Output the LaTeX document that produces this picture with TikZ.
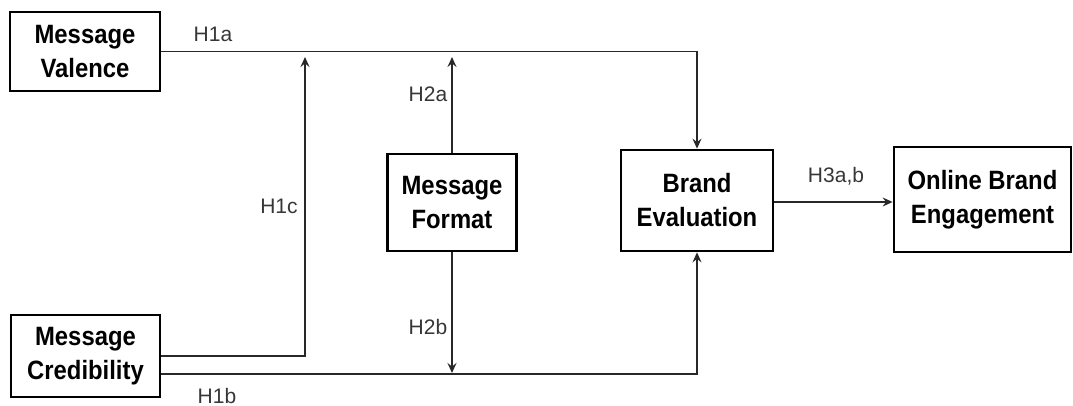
\documentclass[tikz,border=0pt]{standalone}
\usepackage{fontspec}
\setmainfont{Liberation Sans}
\newfontfamily\boxfont[FakeStretch=0.9]{Liberation Sans}
\usetikzlibrary{arrows.meta}
\definecolor{linegray}{RGB}{40,40,40}
\definecolor{labgray}{RGB}{55,55,55}
\tikzset{
  box/.style={draw=black, line width=2.8pt, align=center, inner sep=0pt,
    font=\boxfont\fontsize{26.5}{34}\selectfont\bfseries, text=black},
  conn/.style={draw=linegray, line width=1.4pt},
  arr/.style={conn, -{Stealth[length=10pt,width=9pt,inset=3.5pt]}},
  lab/.style={anchor=base, text=labgray, font=\fontsize{21}{24}\selectfont, inner sep=0pt}
}
\begin{document}
\begin{tikzpicture}[x=1pt,y=-1pt]
\useasboundingbox[fill=white] (0,0) rectangle (1073,406);
\node[box, minimum width=150pt, minimum height=79pt] (valence) at (85,51.5) {Message\\Valence};
\node[box, minimum width=149pt, minimum height=82pt] (cred) at (85.5,356) {Message\\Credibility};
\node[box, minimum width=129pt, minimum height=97pt] (format) at (452,202.5) {Message\\Format};
\node[box, minimum width=152pt, minimum height=101pt] (eval) at (697,200.5) {Brand\\Evaluation};
\node[box, minimum width=177pt, minimum height=105pt] (online) at (982.5,199.5) {Online Brand\\Engagement};
\coordinate (h1ctip) at (305,57);
\coordinate (h2atip) at (452,57);
\coordinate (h2btip) at (452,373);
\coordinate (h1bline) at (0,374);
\coordinate (h1cline) at (305,356);
\draw[arr] (valence.east) -| (eval.north);
\draw[arr] (cred.east |- h1cline) -- (h1cline) -- (h1ctip);
\draw[arr] (cred.east |- h1bline) -| (eval.south);
\draw[arr] (format.north) -- (h2atip);
\draw[arr] (format.south) -- (h2btip);
\draw[arr] (eval.east |- 0,202) -- (online.west |- 0,202);
\node[lab] (l1a) at (213,42) {H1a};
\node[lab] (l2a) at (428,102) {H2a};
\node[lab] (l1c) at (279,214) {H1c};
\node[lab] (l2b) at (428,334) {H2b};
\node[lab] (l1b) at (217,403) {H1b};
\node[lab] (l3) at (836,183) {H3a,b};
\end{tikzpicture}
\end{document}
